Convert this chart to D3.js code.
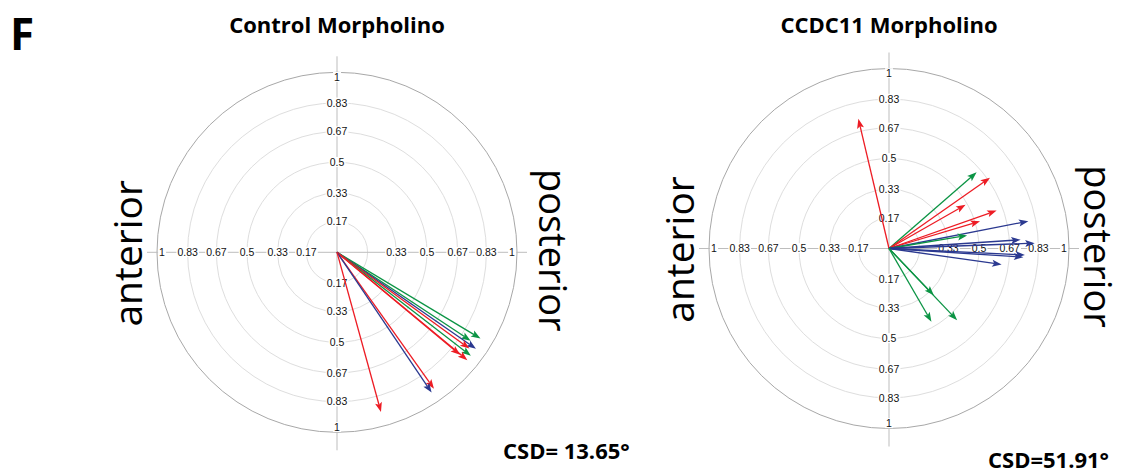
<!DOCTYPE html>
<html>
<head>
<meta charset="utf-8">
<script src="https://cdn.jsdelivr.net/npm/d3@7"></script>
<style>
  body { margin: 0; background: #fff; }
</style>
</head>
<body>
<svg id="fig" width="1128" height="473"></svg>
<script>
  // ring / tick values of the polar grid
  var ringTicks = [0.17, 0.33, 0.5, 0.67, 0.83, 1];

  // control morpholino: angle in degrees (0 = posterior, counter-clockwise), length 0..1
  var controlAngle  = [-31, -33.5, -34.8, -36, -37.7, -39.6, -39.8, -54.6, -56, -74.6];
  var controlLength = [0.93, 0.89, 0.94, 0.91, 0.94, 0.94, 0.89, 0.93, 0.94, 0.92];
  var controlColor  = ["green", "green", "blue", "red", "green", "red", "red", "red", "blue", "red"];

  // CCDC11 morpholino
  var ccdcAngle  = [103.3, 41, 35, 29.7, 19.4, 16.7, 11.1, 9.5, 3.8, 2.1, -2.7, -3.7, -8.1, -46.2, -46.5, -59.9];
  var ccdcLength = [0.74, 0.645, 0.685, 0.49, 0.634, 0.528, 0.789, 0.44, 0.733, 0.81, 0.756, 0.748, 0.632, 0.36, 0.55, 0.47];
  var ccdcColor  = ["red", "green", "red", "red", "red", "red", "blue", "green", "blue", "blue", "blue", "blue", "blue", "green", "green", "green"];

  var colors = { red: "#ed1c24", green: "#0b9444", blue: "#2b3990" };
  var R = 180;

  var svg = d3.select("#fig");

  function drawPolar(cx, cy, title, angles, lens, cols, postOff) {
    var g = svg.append("g");
    var r = d3.scaleLinear().domain([0, 1]).range([0, R]);

    g.selectAll("circle.ring")
      .data(ringTicks)
      .enter()
      .append("circle")
      .attr("class", "ring")
      .attr("cx", cx)
      .attr("cy", cy)
      .attr("r", function(d) { return r(d); })
      .attr("fill", "none")
      .attr("stroke", function(d) { return d === 1 ? "#a8a8a8" : "#dedede"; })
      .attr("stroke-width", 1);

    // axes cross
    g.append("line")
      .attr("x1", cx - R - 10).attr("x2", cx + R + 10)
      .attr("y1", cy).attr("y2", cy)
      .attr("stroke", "#bdbdbd").attr("stroke-width", 1);
    g.append("line")
      .attr("x1", cx).attr("x2", cx)
      .attr("y1", cy - R - 16).attr("y2", cy + R + 18)
      .attr("stroke", "#bdbdbd").attr("stroke-width", 1);

    // tick labels on the four half-axes
    var labels = [];
    ringTicks.forEach(function(v) {
      var d = r(v) - (v === 1 ? 5 : 0);
      labels.push({ t: v, x: cx, y: cy - d });
      labels.push({ t: v, x: cx, y: cy + d });
      labels.push({ t: v, x: cx - d, y: cy });
      if (v !== 0.17) labels.push({ t: v, x: cx + d, y: cy });
    });

    var lg = g.selectAll("g.lab")
      .data(labels)
      .enter()
      .append("g")
      .attr("class", "lab")
      .attr("transform", function(d) { return "translate(" + d.x + "," + d.y + ")"; });
    lg.append("rect").attr("fill", "#fff");
    lg.append("text")
      .attr("text-anchor", "middle")
      .attr("dy", "0.35em")
      .style("font-family", "'Liberation Sans', Arial, sans-serif")
      .style("font-size", "10.5px")
      .style("fill", "#111")
      .text(function(d) { return d.t; });
    lg.each(function() {
      var b = d3.select(this).select("text").node().getBBox();
      d3.select(this).select("rect")
        .attr("x", b.x - 1).attr("y", b.y + 1)
        .attr("width", b.width + 2).attr("height", b.height - 2);
    });

    // arrows
    var arrows = angles.map(function(a, i) {
      return { a: a * Math.PI / 180, len: lens[i], c: colors[cols[i]] };
    });
    var head = 9.5, half = 3.5, notch = 2;

    var ag = g.selectAll("g.arrow")
      .data(arrows)
      .enter()
      .append("g")
      .attr("class", "arrow");

    ag.append("line")
      .attr("x1", cx).attr("y1", cy)
      .attr("x2", function(d) { return cx + d3.pointRadial(Math.PI / 2 - d.a, r(d.len) - head + notch)[0]; })
      .attr("y2", function(d) { return cy + d3.pointRadial(Math.PI / 2 - d.a, r(d.len) - head + notch)[1]; })
      .attr("stroke", function(d) { return d.c; })
      .attr("stroke-width", 1.3);

    ag.append("path")
      .attr("d", "M0,0L" + (-head) + "," + (-half) + "L" + (-head + notch) + ",0L" + (-head) + "," + half + "Z")
      .attr("fill", function(d) { return d.c; })
      .attr("transform", function(d) {
        var p = d3.pointRadial(Math.PI / 2 - d.a, r(d.len));
        return "translate(" + (cx + p[0]) + "," + (cy + p[1]) + ") rotate(" + (-d.a * 180 / Math.PI) + ")";
      });

    // title
    svg.append("text")
      .attr("x", cx).attr("y", 33)
      .attr("text-anchor", "middle")
      .style("font-family", "'Open Sans', sans-serif")
      .style("font-weight", "bold")
      .style("font-size", "22px")
      .text(title);

    // side labels
    svg.append("text")
      .attr("transform", "translate(" + (cx - 195) + "," + (cy + 1) + ") rotate(-90)")
      .attr("text-anchor", "middle")
      .style("font-family", "'Open Sans', sans-serif")
      .style("font-size", "39px")
      .text("anterior");
    svg.append("text")
      .attr("transform", "translate(" + (cx + postOff) + "," + (cy - 2) + ") rotate(90)")
      .attr("text-anchor", "middle")
      .style("font-family", "'Open Sans', sans-serif")
      .style("font-size", "38px")
      .text("posterior");
  }

  drawPolar(337, 252.3, "Control Morpholino", controlAngle, controlLength, controlColor, 202);
  drawPolar(889, 248.5, "CCDC11 Morpholino", ccdcAngle, ccdcLength, ccdcColor, 195);

  svg.append("text")
    .attr("x", 10).attr("y", 50)
    .style("font-family", "'Open Sans', sans-serif")
    .style("font-weight", "bold")
    .style("font-size", "44px")
    .text("F");

  svg.append("text")
    .attr("x", 503).attr("y", 459)
    .style("font-family", "'Open Sans', sans-serif")
    .style("font-weight", "bold")
    .style("font-size", "22px")
    .text("CSD= 13.65°");

  svg.append("text")
    .attr("x", 988).attr("y", 468)
    .style("font-family", "'Open Sans', sans-serif")
    .style("font-weight", "bold")
    .style("font-size", "22px")
    .text("CSD=51.91°");
</script>
</body>
</html>
